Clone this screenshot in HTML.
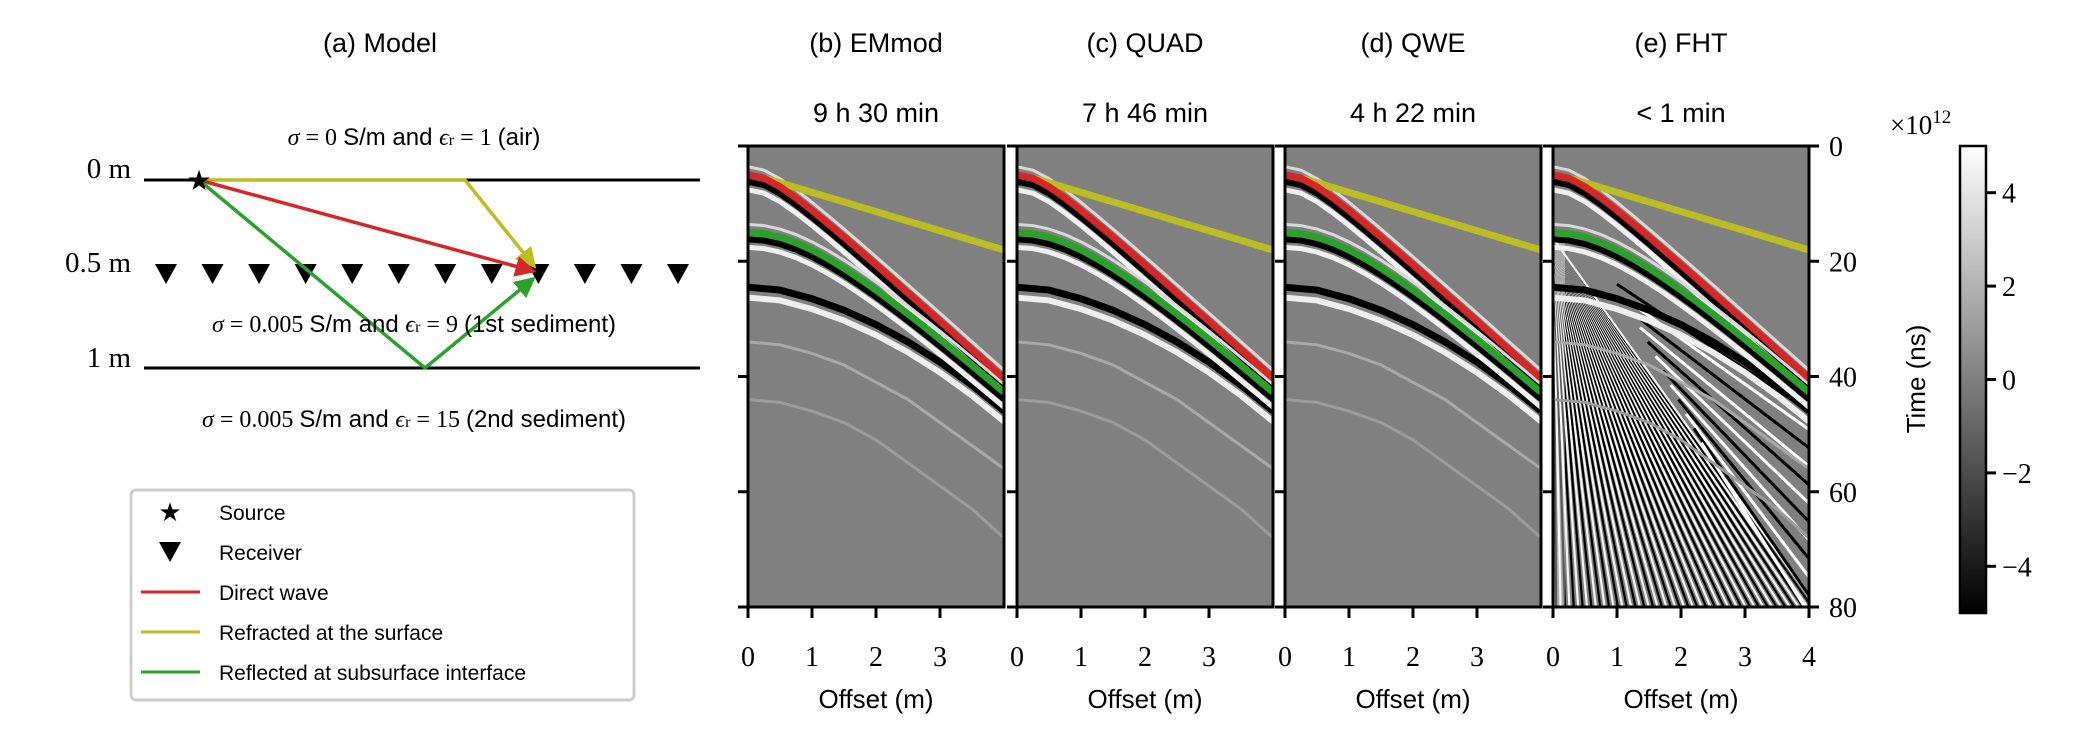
<!DOCTYPE html>
<html><head><meta charset="utf-8"><style>
html,body{margin:0;padding:0;background:#fff;width:2076px;height:746px;overflow:hidden}
svg{display:block;font-family:"Liberation Sans",sans-serif}
.serif{font-family:"Liberation Serif","DejaVu Serif",serif}
</style></head><body>
<svg id="fig" width="2076" height="746" viewBox="0 0 2076 746">
<defs>
<linearGradient id="cbgrad" x1="0" y1="1" x2="0" y2="0"><stop offset="0" stop-color="#000"/><stop offset="1" stop-color="#fff"/></linearGradient>
<marker id="arrR" markerWidth="6" markerHeight="6" refX="5" refY="3" orient="auto" markerUnits="strokeWidth"><path d="M0,0 L6,3 L0,6 z" fill="#d62728"/></marker>
<marker id="arrY" markerWidth="6" markerHeight="6" refX="5" refY="3" orient="auto" markerUnits="strokeWidth"><path d="M0,0 L6,3 L0,6 z" fill="#bcbd22"/></marker>
<marker id="arrG" markerWidth="6" markerHeight="6" refX="5" refY="3" orient="auto" markerUnits="strokeWidth"><path d="M0,0 L6,3 L0,6 z" fill="#2ca02c"/></marker>
</defs>
<g>
<text x="380" y="52" font-size="27" text-anchor="middle">(a) Model</text>
<text x="414" y="145" font-size="24" text-anchor="middle"><tspan class="serif" font-style="italic">σ</tspan><tspan class="serif"> = 0 </tspan>S/m and <tspan class="serif" font-style="italic">ϵ</tspan><tspan class="serif" font-size="16">r</tspan><tspan class="serif"> = 1 </tspan>(air)</text>
<text x="131" y="178" font-size="29" text-anchor="end" class="serif">0 m</text>
<text x="131" y="272" font-size="29" text-anchor="end" class="serif">0.5 m</text>
<text x="131" y="367" font-size="29" text-anchor="end" class="serif">1 m</text>
<line x1="144" y1="180" x2="700" y2="180" stroke="#000" stroke-width="3"/>
<line x1="144" y1="368" x2="700" y2="368" stroke="#000" stroke-width="3"/>
<g id="receivers"></g>
<polyline points="199,180 465,180 534,266" fill="none" stroke="#bcbd22" stroke-width="3.5" marker-end="url(#arrY)"/>
<line x1="199" y1="180" x2="533" y2="271" stroke="#d62728" stroke-width="3.5" marker-end="url(#arrR)"/>
<polyline points="199,180 425,368 533,279" fill="none" stroke="#2ca02c" stroke-width="3.5" marker-end="url(#arrG)"/>
<text x="199" y="190" font-size="28" text-anchor="middle">★</text>
<text x="414" y="332" font-size="24" text-anchor="middle"><tspan class="serif" font-style="italic">σ</tspan><tspan class="serif"> = 0.005 </tspan>S/m and <tspan class="serif" font-style="italic">ϵ</tspan><tspan class="serif" font-size="16">r</tspan><tspan class="serif"> = 9 </tspan>(1st sediment)</text>
<text x="414" y="427" font-size="24" text-anchor="middle"><tspan class="serif" font-style="italic">σ</tspan><tspan class="serif"> = 0.005 </tspan>S/m and <tspan class="serif" font-style="italic">ϵ</tspan><tspan class="serif" font-size="16">r</tspan><tspan class="serif"> = 15 </tspan>(2nd sediment)</text>
<g>
<rect x="131" y="490" width="503" height="210" rx="5" fill="#fff" stroke="#ccc" stroke-width="3"/>
<text x="170" y="521" font-size="26" text-anchor="middle">★</text>
<text x="219" y="520" font-size="21">Source</text>
<path d="M159,542 L181,542 L170,562 z" fill="#000"/>
<text x="219" y="560" font-size="21">Receiver</text>
<line x1="141" y1="592" x2="200" y2="592" stroke="#d62728" stroke-width="3"/>
<text x="219" y="600" font-size="21">Direct wave</text>
<line x1="141" y1="632" x2="200" y2="632" stroke="#bcbd22" stroke-width="3"/>
<text x="219" y="640" font-size="21">Refracted at the surface</text>
<line x1="141" y1="672" x2="200" y2="672" stroke="#2ca02c" stroke-width="3"/>
<text x="219" y="680" font-size="21">Reflected at subsurface interface</text>
</g>
</g>
<g id="panels"></g>
<g id="cbar">
<rect x="1960" y="146" width="26" height="467" fill="url(#cbgrad)" stroke="#000" stroke-width="2.5"/>
<text x="1890" y="134" font-size="27" class="serif">×10<tspan font-size="19" dy="-11">12</tspan></text>
</g>
</svg>
<script>
const NS='http://www.w3.org/2000/svg';
// ---- data ----
const panelTitles=['(b) EMmod','(c) QUAD','(d) QWE','(e) FHT'];
const runtimes=['9 h 30 min','7 h 46 min','4 h 22 min','< 1 min'];
const offsets=[0,0.25,0.5,0.75,1,1.25,1.5,1.75,2,2.25,2.5,2.75,3,3.25,3.5,3.75,4];
const directTimes=[5,5.59,7.07,9.01,11.18,13.46,15.81,18.2,20.62,23.05,25.5,27.95,30.41,32.88,35.36,37.83,40.31];
const reflectedTimes=[15,15.21,15.81,16.77,18.03,19.53,21.21,23.05,25,27.04,29.15,31.32,33.54,35.79,38.08,40.39,42.72];
const refractOffsets=[0.25,0.5,1,1.5,2,2.5,3,3.5,4];
const refractedTimes=[5.55,6.38,8.05,9.71,11.38,13.05,14.71,16.38,18.05];
const deepOffsets=[0,0.5,1,1.5,2,2.5,3,3.5,4];
const deepTimes=[24.5,25,26.5,28.5,31,34,37.5,41.5,46];
const faint1Times=[34,34.5,36,38,41,44,48,52,56];
const faint2Times=[44,44.5,46,48,51,55,59,63,68];
const timeTicks=[0,20,40,60,80];
const cbTicks=[4,2,0,-2,-4];
const receiverCount=12;
// ---- layout ----
const pLeft=[748,1017,1285,1553], pW=256, pTop=146, pBot=607;
const xMax=4, tMax=80, cbTop=146, cbBot=613, cbMax=5;
const svg=document.getElementById('fig');
function el(tag,attrs,parent){const e=document.createElementNS(NS,tag);for(const k in attrs)e.setAttribute(k,attrs[k]);parent.appendChild(e);return e;}
const rg=document.getElementById('receivers');
for(let i=0;i<receiverCount;i++){
  const x=166+i*(512/(receiverCount-1));
  const r=el('path',{d:`M${x-11},264 L${x+11},264 L${x},284 z`,fill:'#000'},rg);
  
  
}
const pg=document.getElementById('panels');
pLeft.forEach((L,pi)=>{
  const X=m=>L+m/xMax*pW, Y=t=>pTop+t/tMax*(pBot-pTop);
  const g=el('g',{},pg);
  
  
  const cid='clip'+pi;
  const cp=el('clipPath',{id:cid},g);el('rect',{x:L,y:pTop,width:pW,height:pBot-pTop},cp);
  const bg=el('rect',{x:L,y:pTop,width:pW,height:pBot-pTop,fill:'#808080'},g);
  
  
  const ig=el('g',{'clip-path':`url(#${cid})`},g);
  const pts=(xs,ts,dt)=>xs.map((x,i)=>X(x)+','+Y(ts[i]+dt)).join(' ');
  if(pi===3){
    for(let k=0;k<60;k++){
      const xe=0.05+k*0.07;
      const ln=el('line',{x1:X(0),y1:Y(16),x2:X(xe),y2:Y(81),stroke:k%2?'#f4f4f4':'#000','stroke-width':2.2},ig);
      
      
    }
    for(let k=0;k<12;k++){
      const ln=el('line',{x1:X(1.0+k*0.12),y1:Y(24+k*2.5),x2:X(4),y2:Y(46+k*3.2),stroke:k%2?'#fff':'#000','stroke-width':3},ig);
      
      
    }
    const nz=el('rect',{x:L,y:Y(16),width:12,height:pBot-Y(16),fill:'#fff',opacity:0.35},ig);
    
    
  }
  const faintSets=[[faint1Times,'#a9a9a9'],[faint2Times,'#9c9c9c']];
  faintSets.forEach(([ts,c])=>{
    const f=el('polyline',{points:pts(deepOffsets,ts,0),fill:'none',stroke:c,'stroke-width':3},ig);
    
    
  });
  const d1=el('polyline',{points:pts(deepOffsets,deepTimes,0),fill:'none',stroke:'#000','stroke-width':7},ig);
  
  
  const d2=el('polyline',{points:pts(deepOffsets,deepTimes,1.8),fill:'none',stroke:'#eee','stroke-width':6},ig);
  
  
  [[directTimes],[reflectedTimes]].forEach(([ts])=>{
    const w=el('polyline',{points:pts(offsets,ts,-1.4),fill:'none',stroke:'#d8d8d8','stroke-width':3},ig);
    
    
    const b=el('polyline',{points:pts(offsets,ts,1.2),fill:'none',stroke:'#000','stroke-width':6},ig);
    
    
    const w2=el('polyline',{points:pts(offsets,ts,2.6),fill:'none',stroke:'#f0f0f0','stroke-width':5},ig);
    
    
  });
  const yl=el('polyline',{points:pts(refractOffsets,refractedTimes,0),fill:'none',stroke:'#bcbd22','stroke-width':7},ig);
  
  
  const rl=el('polyline',{points:pts(offsets,directTimes,0),fill:'none',stroke:'#d62728','stroke-width':7},ig);
  
  
  const gl=el('polyline',{points:pts(offsets,reflectedTimes,0),fill:'none',stroke:'#2ca02c','stroke-width':7},ig);
  
  
  const fr=el('rect',{x:L,y:pTop,width:pW,height:pBot-pTop,fill:'none',stroke:'#000','stroke-width':3},g);
  
  
  const tt=el('text',{x:L+pW/2,y:52,'font-size':27,'text-anchor':'middle'},g);tt.textContent=panelTitles[pi];
  
  
  const rt=el('text',{x:L+pW/2,y:122,'font-size':27,'text-anchor':'middle'},g);rt.textContent=runtimes[pi];
  
  
  timeTicks.forEach(t=>{
    const tk=el('line',{x1:L-10,y1:Y(t),x2:L,y2:Y(t),stroke:'#000','stroke-width':3},g);
    
    
    if(pi===3){
      const tr=el('line',{x1:L+pW,y1:Y(t),x2:L+pW+10,y2:Y(t),stroke:'#000','stroke-width':3},g);
      
      
      const lb=el('text',{x:L+pW+20,y:Y(t)+10,'font-size':28,class:'serif'},g);lb.textContent=t;
      
      
    }
  });
  const nx=pi===3?4:3;
  for(let m=0;m<=nx;m++){
    const tk=el('line',{x1:X(m),y1:pBot,x2:X(m),y2:pBot+11,stroke:'#000','stroke-width':3},g);
    
    
    const lb=el('text',{x:X(m),y:666,'font-size':28,'text-anchor':'middle',class:'serif'},g);lb.textContent=m;
    
    
  }
  const xl=el('text',{x:L+pW/2,y:708,'font-size':26,'text-anchor':'middle'},g);xl.textContent='Offset (m)';
  
  
});
const ya=el('text',{x:0,y:0,'font-size':26,'text-anchor':'middle',transform:'translate(1925,379) rotate(-90)'},svg);ya.textContent='Time (ns)';


const cb=document.getElementById('cbar');
cbTicks.forEach(v=>{
  const y=(cbTop+cbBot)/2 - v/cbMax*(cbBot-cbTop)/2;
  const tk=el('line',{x1:1986,y1:y,x2:1996,y2:y,stroke:'#000','stroke-width':3},cb);
  
  
  const lb=el('text',{x:2002,y:y+10,'font-size':28,class:'serif'},cb);lb.textContent=v<0?'−'+(-v):String(v);
  
  
});
</script>
</body></html>
